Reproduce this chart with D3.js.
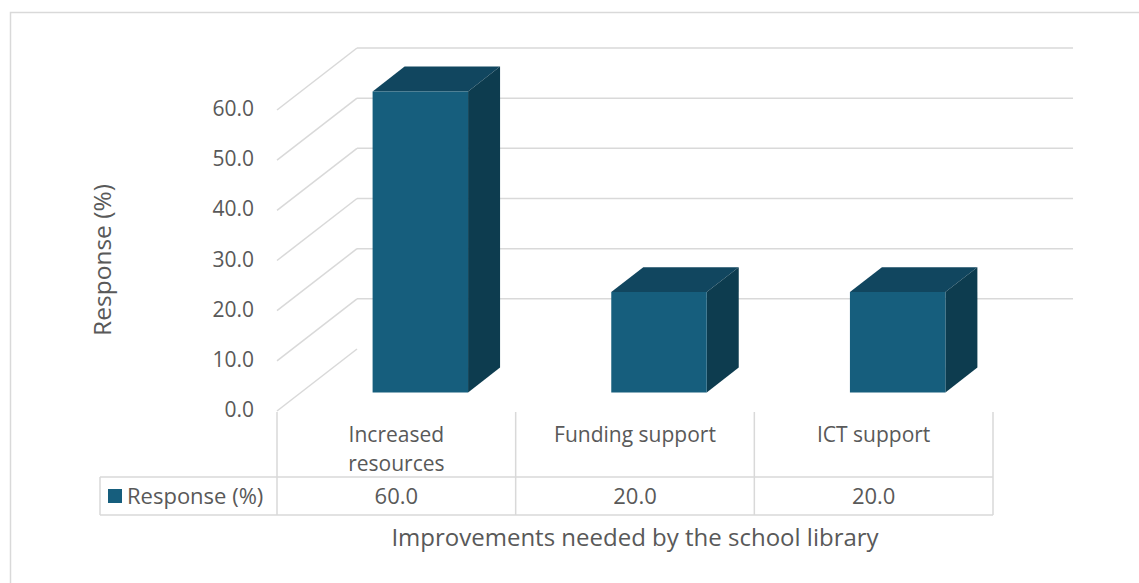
<!DOCTYPE html>
<html>
<head>
<meta charset="utf-8">
<script src="https://cdn.jsdelivr.net/npm/d3@7"></script>
<style>
  html, body { margin: 0; padding: 0; background: #fff; }
  svg { display: block; }
  text { font-family: "Open Sans", "Noto Sans", sans-serif; fill: #595959; }
</style>
</head>
<body>
<svg id="chart" width="1139" height="583"></svg>
<script>
// Chart data
const categories = ["Increased resources", "Funding support", "ICT support"];
const categoryLines = [["Increased", "resources"], ["Funding support"], ["ICT support"]];
const seriesName = "Response (%)";
const values = [60.0, 20.0, 20.0];
const yTicks = [0, 10, 20, 30, 40, 50, 60];
const yTitle = "Response (%)";
const xTitle = "Improvements needed by the school library";

const colors = { front: "#165e7d", top: "#11465f", side: "#0d3c4f", grid: "#d9d9d9", text: "#595959" };

const svg = d3.select("#chart");

// Outer chart frame
svg.append("rect")
  .attr("x", 10.5).attr("y", 12.5)
  .attr("width", 1200).attr("height", 700)
  .attr("fill", "none").attr("stroke", colors.grid).attr("stroke-width", 1.5);

// Projection: front plane of the floor, plus a depth offset for the 3D look
const floorFrontY = 411;
const depthDX = 80, depthDY = -62;        // offset from front (depth 0) to back wall (depth 1)
const x = d3.scaleBand().domain(categories).range([277, 993]).paddingInner(0).paddingOuter(0);
const y = d3.scaleLinear().domain([0, 60]).range([floorFrontY, floorFrontY - 301]);
const P = (px, v, d) => [px + depthDX * d, y(v) + depthDY * d];

// Back-wall gridlines and left-wall diagonals
const grid = svg.append("g").attr("stroke", colors.grid).attr("stroke-width", 1.5).attr("fill", "none");
yTicks.forEach(t => {
  const a = P(x.range()[0], t, 0), b = P(x.range()[0], t, 1), c = P(x.range()[1], t, 1);
  if (t > 0) grid.append("line").attr("x1", b[0]).attr("y1", b[1]).attr("x2", c[0]).attr("y2", c[1]);
  grid.append("line").attr("x1", a[0]).attr("y1", a[1]).attr("x2", b[0]).attr("y2", b[1]);
});

// Tick labels along the front edge of the left wall
svg.append("g").selectAll("text").data(yTicks).join("text")
  .attr("x", 254).attr("y", d => y(d) - 2)
  .attr("text-anchor", "end").attr("dominant-baseline", "central")
  .attr("font-size", 21)
  .text(d => d.toFixed(1));

// 3D columns: faces occupy depth 0.3 .. 0.7 of the floor
const barW = x.bandwidth() * 0.4;
const d0 = 0.3, d1 = 0.7;
const poly = pts => pts.map(p => p.join(",")).join(" ");
const bars = svg.append("g");
categories.forEach((c, i) => {
  const v = values[i];
  const xl = x(c) + (x.bandwidth() - barW) / 2, xr = xl + barW;
  const fBL = P(xl, 0, d0), fBR = P(xr, 0, d0), fTR = P(xr, v, d0), fTL = P(xl, v, d0);
  const bBR = P(xr, 0, d1), bTR = P(xr, v, d1), bTL = P(xl, v, d1);
  bars.append("polygon").attr("points", poly([fTL, fTR, bTR, bTL])).attr("fill", colors.top);
  bars.append("polygon").attr("points", poly([fBR, bBR, bTR, fTR])).attr("fill", colors.side);
  bars.append("polygon").attr("points", poly([fBL, fBR, fTR, fTL])).attr("fill", colors.front);
});

// Data table under the plot
const table = svg.append("g").attr("stroke", colors.grid).attr("stroke-width", 1.5).attr("fill", "none");
const rowTop = 412, rowMid = 477, rowBot = 515, legendLeft = 100;
x.domain().forEach(c => {
  table.append("line").attr("x1", x(c)).attr("y1", rowTop).attr("x2", x(c)).attr("y2", rowBot);
});
table.append("line").attr("x1", x.range()[1]).attr("y1", rowTop).attr("x2", x.range()[1]).attr("y2", rowBot);
table.append("line").attr("x1", legendLeft).attr("y1", rowMid).attr("x2", x.range()[1]).attr("y2", rowMid);
table.append("line").attr("x1", legendLeft).attr("y1", rowBot).attr("x2", x.range()[1]).attr("y2", rowBot);
table.append("line").attr("x1", legendLeft).attr("y1", rowMid).attr("x2", legendLeft).attr("y2", rowBot);

// Category labels (wrapped lines)
const lineGap = 28.6;
categories.forEach((c, i) => {
  const t = svg.append("text")
    .attr("x", x(c) + x.bandwidth() / 2).attr("y", 442)
    .attr("text-anchor", "middle").attr("font-size", 21);
  categoryLines[i].forEach((ln, j) => {
    t.append("tspan").attr("x", x(c) + x.bandwidth() / 2).attr("dy", j === 0 ? 0 : lineGap).text(ln);
  });
});

// Value row
svg.append("g").selectAll("text").data(values).join("text")
  .attr("x", (d, i) => x(categories[i]) + x.bandwidth() / 2)
  .attr("y", 504)
  .attr("text-anchor", "middle").attr("font-size", 22)
  .text(d => d.toFixed(1));

// Legend key in the table
svg.append("rect").attr("x", 108).attr("y", 489).attr("width", 14).attr("height", 14).attr("fill", colors.front);
svg.append("text").attr("x", 127).attr("y", 504).attr("font-size", 22).text(seriesName);

// Axis titles
svg.append("text")
  .attr("transform", "translate(111,260) rotate(-90)")
  .attr("text-anchor", "middle").attr("font-size", 24.5)
  .text(yTitle);
svg.append("text")
  .attr("x", 635).attr("y", 546)
  .attr("text-anchor", "middle").attr("font-size", 24)
  .text(xTitle);
</script>
</body>
</html>
